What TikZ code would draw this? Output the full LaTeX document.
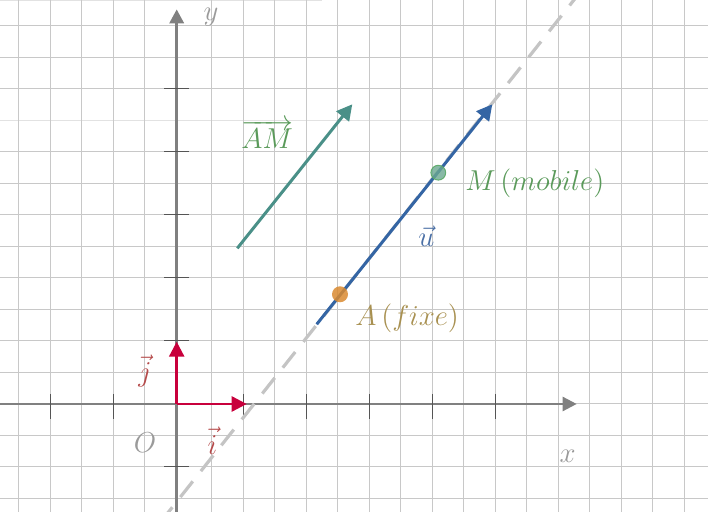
\documentclass[tikz,border=0pt]{standalone}
\usetikzlibrary{arrows.meta}
\definecolor{gridc}{HTML}{C8C8C8}
\definecolor{gridl}{HTML}{E2E2E2}
\definecolor{axisc}{HTML}{808080}
\definecolor{tickc}{HTML}{555555}
\definecolor{lblgray}{HTML}{9A9A9A}
\definecolor{redv}{HTML}{C8003C}
\definecolor{redl}{HTML}{B54A4A}
\definecolor{tealv}{HTML}{4A9088}
\definecolor{greenl}{HTML}{5A9A5A}
\definecolor{bluev}{HTML}{3465A4}
\definecolor{bluel}{HTML}{4A6FA5}
\definecolor{orangep}{HTML}{D98A30}
\definecolor{greenp}{HTML}{6AA890}
\definecolor{greenpb}{HTML}{5AAA66}
\definecolor{ochrel}{HTML}{A89050}
\definecolor{dashc}{HTML}{C4C4C4}
\begin{document}
\begin{tikzpicture}[x=0.5pt,y=-0.5pt,
  gridline/.style={draw=gridc,line width=0.5pt},
  axisline/.style={draw=axisc,line width=1.4pt,-{Triangle[length=7pt,width=7pt]}},
  tickline/.style={draw=tickc,line width=0.5pt},
  unitvec/.style={draw=redv,line width=1.3pt,-{Triangle[length=7.5pt,width=7.5pt]}},
  bigvec/.style={line width=1.5pt,-{Triangle[length=7.8pt,width=8pt]}},
  lbl/.style={inner sep=0pt,font=\fontsize{15.3}{18}\selectfont},
  pointdot/.style={circle,inner sep=0pt,minimum size=8pt}]
\useasboundingbox (0,0) rectangle (708,512);
\clip (0,0) rectangle (708,512);
% grid
\foreach \k in {0,1,2,4,5,6,7,8,9,10,11,12,13,14,15}
  \draw[gridline] (0,{26+31.49*\k}) -- (708,{26+31.49*\k});
\draw[draw=gridl,line width=0.5pt] (0,120.5) -- (708,120.5);
\draw[draw=gridl,line width=0.5pt] (0,0.6) -- (322,0.6);
\foreach \k in {1,...,5}
  \draw[gridline] ({176.0-31.5*\k},0) -- ({176.0-31.5*\k},512);
\foreach \k in {1,...,16}
  \draw[gridline] ({180.2+31.5*\k},0) -- ({180.2+31.5*\k},512);
% axes
\coordinate (O) at (176.7,404);
\coordinate (xl) at (0,404);
\coordinate (xr) at (576.7,404);
\coordinate (yb) at (176.7,512);
\coordinate (yt) at (176.7,9.3);
\draw[axisline,line width=1.2pt] (xl) -- (xr);
\draw[axisline,line width=1.6pt] (yb) -- (yt);
% ticks
\foreach \t in {50,113,243.2,306.2,369.2,432.2,495.2}
  \draw[tickline] (\t,394) -- (\t,419);
\foreach \t in {89,152,215,278,341,467}
  \draw[tickline] (164.3,\t) -- (189.3,\t);
% dashed line
\coordinate (d1) at (162.6,519.5);
\coordinate (d2) at (582,-10.2);
\draw[draw=dashc,line width=1.6pt,dash pattern=on 10pt off 6.5pt] (d2) -- (d1);
% unit vectors
\coordinate (ie) at (246.7,404);
\coordinate (je) at (176.7,341.7);
\draw[unitvec] (O) -- (ie);
\draw[unitvec] (O) -- (je);
% AM vector
\coordinate (v1) at (237.3,248.3);
\coordinate (v2) at (352.3,104.3);
\draw[bigvec,draw=tealv,fill=tealv] (v1) -- (v2);
% u vector
\coordinate (u1) at (316.7,324.3);
\coordinate (u2) at (492.3,104.3);
\draw[bigvec,draw=bluev,fill=bluev] (u1) -- (u2);
% points
\node[pointdot,fill=orangep,fill opacity=0.85,minimum size=8pt] (A) at (340,294.3) {};
\node[pointdot,fill=greenp,fill opacity=0.8,draw=greenpb,draw opacity=0.9,line width=0.5pt,minimum size=7.4pt] (M) at (438.3,172.7) {};
% labels
\node[lbl,text=lblgray,anchor=base] (ly) at (211,21) {$y$};
\node[lbl,text=lblgray,anchor=base] (lx) at (567.7,462.7) {$x$};
\node[lbl,text=lblgray,anchor=base] (lO) at (145,452.7) {$O$};
\node[lbl,text=redl,anchor=base] (li) at (212.5,454.3) {$\vec{i}$};
\node[lbl,text=redl,anchor=base] (lj) at (145,381.5) {$\vec{j}$};
\node[lbl,text=greenl,anchor=base west] (lAM) at (241,148.3) {$\overrightarrow{AM}$};
\node[lbl,text=bluel,anchor=base] (lu) at (426.5,246.7) {$\vec{u}$};
\node[lbl,text=greenl,anchor=base west] (lM) at (465,190.7) {$M\left(mobile\right)$};
\node[lbl,text=ochrel,anchor=base west] (lA) at (355,326) {$A\left(fixe\right)$};
\end{tikzpicture}
\end{document}
